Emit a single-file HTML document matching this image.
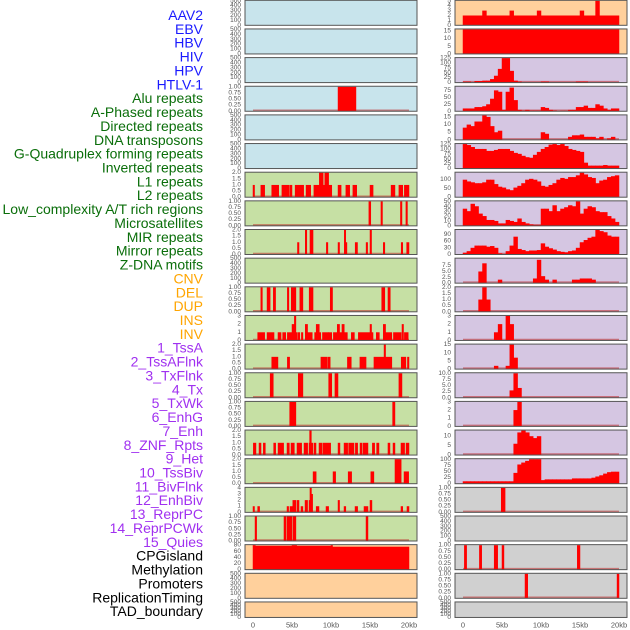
<!DOCTYPE html>
<html><head><meta charset="utf-8">
<style>
html,body{margin:0;padding:0;background:#fff;}
svg{display:block;font-family:"Liberation Sans",sans-serif;}
</style></head>
<body>
<svg id="chart" width="630" height="630" viewBox="0 0 630 630" xmlns="http://www.w3.org/2000/svg"></svg>
<script>
// ---- data ----
const labels = ["AAV2","EBV","HBV","HIV","HPV","HTLV-1","Alu repeats","A-Phased repeats","Directed repeats","DNA transposons","G-Quadruplex forming repeats","Inverted repeats","L1 repeats","L2 repeats","Low_complexity A/T rich regions","Microsatellites","MIR repeats","Mirror repeats","Z-DNA motifs","CNV","DEL","DUP","INS","INV","1_TssA","2_TssAFlnk","3_TxFlnk","4_Tx","5_TxWk","6_EnhG","7_Enh","8_ZNF_Rpts","9_Het","10_TssBiv","11_BivFlnk","12_EnhBiv","13_ReprPC","14_ReprPCWk","15_Quies","CPGisland","Methylation","Promoters","ReplicationTiming","TAD_boundary"];
const labelGroups = ["v","v","v","v","v","v","r","r","r","r","r","r","r","r","r","r","r","r","r","s","s","s","s","s","c","c","c","c","c","c","c","c","c","c","c","c","c","c","c","k","k","k","k","k"];
const xTicks = [0,5,10,15,20];
const xTickLabels = ["0","5kb","10kb","15kb","20kb"];
const emptyTicks = [0,100,200,300,400,500];

// left panels: segments [startKb, endKb, value]
const leftBg = ["b","b","b","b","b","b","g","g","g","g","g","g","g","g","g","g","g","g","g","o","o","o"];
const leftYmax = [500,500,500,1,500,500,2,1,2,500,1,3,2,1,1,2,2,4,1,80,500,500];
const leftTicks = [emptyTicks,emptyTicks,emptyTicks,[0,0.25,0.5,0.75,1],emptyTicks,emptyTicks,[0,0.5,1,1.5,2],[0,0.25,0.5,0.75,1],[0,0.5,1,1.5,2],emptyTicks,[0,0.25,0.5,0.75,1],[0,1,2,3],[0,0.5,1,1.5,2],[0,0.25,0.5,0.75,1],[0,0.25,0.5,0.75,1],[0,0.5,1,1.5,2],[0,0.5,1,1.5,2],[0,1,2,3,4],[0,0.25,0.5,0.75,1],[0,20,40,60,80],emptyTicks,emptyTicks];
const leftSegs = [
 null,null,null,
 [[10.9,13.2,1]],
 null,null,
 [[0,0.2,1],[1.0,1.5,1],[2.4,3.3,1],[3.7,4.6,1],[4.7,5.0,1],[5.4,6.5,1],[6.8,7.4,1],[7.8,8.5,1],[8.5,9.0,2],[9.0,9.2,1],[9.2,9.7,2],[9.7,10.1,1],[10.9,11.3,1],[11.9,12.4,1],[12.8,13.3,1],[15.0,15.4,1],[17.7,18.2,1],[18.7,19.2,1],[19.4,20,1]],
 [[14.85,15.1,1],[16.4,16.6,1],[18.9,19.1,1],[19.6,19.8,1]],
 [[5.7,5.9,1],[6.7,6.9,2],[7.3,7.7,2],[9.4,9.6,1],[10.9,11.1,1],[11.7,11.85,2],[11.85,12.0,1],[13.1,13.4,1],[14.5,14.7,1],[15.0,15.2,2],[16.7,16.9,1],[19.0,19.2,1],[19.7,20,1]],
 null,
 [[1.0,1.2,1],[1.8,2.2,1],[2.6,2.9,1],[4.4,4.6,1],[4.9,5.5,1],[6.0,6.4,1],[7.2,7.7,1],[9.9,10.2,1],[16.5,16.9,1],[17.3,17.6,1]],
 [[0.6,1.5,1],[1.8,2.7,1],[3.2,3.6,1],[3.8,4.2,1],[4.4,5.0,1],[5.0,5.3,2],[5.3,5.5,3],[5.5,5.7,1],[5.8,6.0,1],[6.2,6.4,1],[6.7,7.0,2],[7.0,7.6,1],[8.1,8.5,2],[7.9,8.1,1],[8.5,8.6,1],[8.9,9.7,1],[9.7,10.1,1],[10.3,10.8,1],[10.8,11.1,2],[11.1,11.4,1],[11.4,11.7,2],[11.7,12.1,1],[12.6,13.0,1],[13.5,15.0,1],[15.0,15.2,2],[15.2,15.3,1],[15.8,16.2,1],[16.7,17.0,2],[17.0,17.8,1],[18.0,19.0,1],[19.1,19.3,2],[19.4,19.9,1]],
 [[2.4,3.2,1],[4.4,4.7,1],[8.7,9.5,1],[9.6,9.9,1],[12.1,12.6,1],[13.7,14.5,1],[15.5,16.8,1],[16.8,17.0,2],[17.0,17.8,1],[19.0,19.6,1],[19.8,20,1]],
 [[2.2,2.6,1],[5.8,6.4,1],[9.7,10.1,1],[10.5,10.9,1],[18.7,19.1,1]],
 [[4.7,5.5,1],[17.9,18.2,1]],
 [[0.04,0.38,1],[0.77,1.03,1],[1.32,1.58,1],[2.65,2.91,1],[3.21,3.93,1],[4.36,4.66,1],[4.87,5.3,1],[5.64,6.24,1],[6.54,7.01,1],[7.18,7.26,1],[7.26,7.48,2],[7.48,7.56,1],[7.82,8.08,1],[8.46,8.85,1],[8.97,9.96,1],[10.9,11.15,1],[11.67,12.14,1],[12.26,12.95,1],[13.12,13.42,1],[13.72,13.97,1],[14.1,14.74,1],[15.3,15.6,1],[15.85,16.15,1],[17.3,17.56,1],[17.95,18.2,1],[18.97,19.44,1],[19.62,20,1]],
 [[7.7,8.1,1],[10.26,10.6,1],[12.2,12.65,1],[15.1,15.5,1],[18.2,19.0,2],[19.36,19.96,1]],
 [[0,0.1,1],[0.6,0.85,1],[4.36,4.57,1],[4.74,5.1,1],[5.1,5.5,2],[5.64,5.9,2],[6.15,6.4,1],[6.67,7.0,2],[7.18,7.3,2],[7.3,7.45,4],[7.45,7.65,3],[8.1,8.46,1],[9.36,9.7,1],[10.9,11.1,2],[11.67,11.9,1],[13.08,13.42,1],[14.23,14.74,1],[15.0,15.25,2],[18.97,19.2,1],[19.74,20,1]],
 [[0.26,0.47,1],[3.97,4.23,1],[4.36,5.0,1],[5.13,5.5,1],[14.49,14.74,1]],
 [[0,0.3,80],[0.3,5.0,78],[5.0,5.6,80],[5.6,10.0,78],[10.0,10.2,80],[10.2,20,75]],
 null,null
];

// right panels: 40 bins of 0.5kb, or segments
const rightBg = ["o","o","p","p","p","p","p","p","p","p","p","p","p","p","p","p","p","y","y","y","y","y"];
const rightYmax = [5,16,125,88,16,125,140,50,110,10.5,2,3,15,10,3,13,102,1,500,1,1,500];
const rightTicks = [[0,1,2,3,4,5],[0,5,10,15],[0,25,50,75,100,125],[0,25,50,75],[0,5,10,15],[0,25,50,75,100,125],[0,50,100],[0,10,20,30,40,50],[0,30,60,90],[0,2.5,5,7.5],[0,0.5,1,1.5,2],[0,1,2,3],[0,5,10,15],[0,2.5,5,7.5,10],[0,1,2,3],[0,5,10],[0,25,50,75,100],[0,0.25,0.5,0.75,1],emptyTicks,[0,0.25,0.5,0.75,1],[0,0.25,0.5,0.75,1],emptyTicks];
const rightTickFmt = [0,0,0,0,0,0,0,0,0,1,1,0,0,1,0,0,0,2,0,2,2,0];
const leftTickFmt = [0,0,0,2,0,0,1,2,1,0,2,0,1,2,2,1,1,0,2,0,0,0];
const rightBins = [
 [2,2,2,2,2,3,2,2,2,2,2,2,3,2,2,2,2,2,2,3,2,2,2,2,2,2,2,2,2,2,3,2,2,2,5,2,2,2,2,2],
 [16,16,16,16,16,16,16,16,16,16,16,16,16,16,16,16,16,16,16,16,16,16,16,16,16,16,16,16,16,16,16,16,16,16,16,16,16,16,16,16],
 [5,5,0,8,8,10,10,18,35,70,125,125,60,10,5,0,0,0,0,0,5,5,0,0,0,0,0,0,0,5,5,5,0,0,0,0,0,0,0,0],
 [10,10,10,15,15,18,25,45,75,70,5,70,85,40,5,3,5,3,3,3,15,12,5,3,1,2,2,5,5,15,15,20,12,12,25,20,10,5,10,10],
 [8,10,9,12,12,16,15,9,5,6,0,0,0,0,0,0,0,0,0,0,5,4,0,0,0,0,0,2,3,3,3.5,2,2,2,1,2,0,1,2,0],
 [125,120,110,100,100,100,90,90,95,100,100,100,90,80,75,65,58,55,70,85,100,110,122,125,120,125,115,100,95,90,85,30,15,15,15,15,18,15,15,15],
 [100,90,85,80,80,85,100,100,75,60,55,45,40,55,65,80,100,105,100,90,65,60,70,80,100,110,105,115,115,125,140,130,115,110,80,95,100,115,120,125],
 [35,30,45,40,25,20,12,12,10,5,5,12,10,8,15,8,5,3,2,2,35,35,30,42,30,35,38,42,40,50,25,35,40,38,30,28,28,20,15,8],
 [8,15,30,40,40,40,35,38,30,5,2,15,40,80,25,20,15,18,18,20,50,35,28,22,15,12,10,15,18,30,55,65,75,80,110,105,100,85,80,80],
 [0,0,0,0,5,8.5,0,0,0,1.5,0,0,0,0,0,0,0,0,2,10,3,1.5,0,1.5,0,0,0,0,1.5,1.5,2,2,2,1.5,0,0,0,0,0,0],
 [0,0,0,0,1,2,1,0,0,0,0,0,0,0,0,0,0,0,0,0,0,0,0,0,0,0,0,0,0,0,0,0,0,0,0,0,0,0,0,0],
 [0,0,0,0,0,0,0,0,1,2,0,3,2,0,0,0,0,0,0,0,0,0,0,0,0,0,0,0,0,0,0,0,0,0,0,0,0,0,0,0],
 [0,0,0,0,0,0,0,0,2,0,0,2,15,7,0,0,0,0,0,0,0,0,0,0,0,0,0,0,0,0,0,0,0,0,0,0,0,0,0,0],
 [0,0,0,0,0,0,0,0,0,0,0,0,3,10,4,0,0,0,0,0,0,0,0,0,0,0,0,0,0,0,0,0,0,0,0,0,0,0,0,0],
 [0,0,0,0,0,0,0,0,0,0,0,0,0,2,3,0,0,0,0,0,0,0,0,0,0,0,0,0,0,0,0,0,0,0,0,0,0,0,0,0],
 [0,0,0,0,0,0,0,0,0,0,0,0,0,6,12,13,12,10,9,10,0,0,0,0,0,0,0,0,0,0,0,0,0,0,0,0,0,0,0,0],
 [10,10,10,10,10,10,10,10,10,10,10,10,10,45,80,88,95,102,102,102,15,18,18,18,18,18,18,18,22,22,22,22,22,25,30,35,42,48,50,50],
 null,null,null,null,null
];
const rightSegs = {17:[[4.9,5.4,1]],19:[[0.17,0.47,1],[2.1,2.4,1],[4.0,4.45,1],[5.0,5.25,1],[14.65,15.0,1]],20:[[7.95,8.3,1],[19.75,20,1]]};

// ---- drawing ----
const svg = document.getElementById('chart');
const NS = 'http://www.w3.org/2000/svg';
function mk(tag, attrs, parent){const e=document.createElementNS(NS,tag);for(const k in attrs)e.setAttribute(k,attrs[k]);(parent||svg).appendChild(e);return e;}
const bgColors = {b:'#c8e4ec',g:'#c6e0a4',o:'#ffd09c',p:'#d5c6e2',y:'#d0d0d0'};
const labelColors = {v:'#1a1aff',r:'#0a6e0a',s:'#ffa500',c:'#a030f0',k:'#000000'};
const ROW = 28.65, PH = 25;
function rowTop(i){return 0.3 + ROW*i;}
function rowH(i){return i===21 ? 15.5 : PH;}
function xScale(kb, side){return (side==='L'?253:463) + kb*7.8;}
function fmt(v,d){return v.toFixed(d);}

// labels
labels.forEach((t,i)=>{
  const e = mk('text',{x:203,y:15+14.54*i*(41/43),'text-anchor':'end','dominant-baseline':'central','font-size':'14',fill:labelColors[labelGroups[i]]});
  
  
  e.textContent=t;
});

function drawPanel(i, side){
  const px = side==='L'?245:455;
  const top = rowTop(i), h = rowH(i), bot = top+h;
  const bg = side==='L'?leftBg[i]:rightBg[i];
  const ymax = side==='L'?leftYmax[i]:rightYmax[i];
  const ticks = side==='L'?leftTicks[i]:rightTicks[i];
  const dec = side==='L'?leftTickFmt[i]:rightTickFmt[i];
  const g = mk('g',{});
  
  
  mk('rect',{x:px,y:top,width:172,height:h,fill:bgColors[bg]},g);
  function yS(v){return bot - (v/ymax)*(h-0.5);}
  let marks = [];
  const segs = side==='L'?leftSegs[i]:rightSegs[i];
  const bins = side==='R'?rightBins[i]:null;
  if(bins){bins.forEach((v,k)=>{if(v>0)marks.push([k*0.5,(k+1)*0.5,v]);});}
  if(segs){marks = marks.concat(segs);}
  if(marks.length){
    mk('line',{x1:xScale(0,side),x2:xScale(20,side),y1:bot-1,y2:bot-1,stroke:'rgba(190,40,40,0.55)','stroke-width':1.5},g);
    marks.forEach(m=>{
      const x1=xScale(m[0],side), x2=xScale(m[1],side), y=yS(Math.min(m[2],ymax));
      const r = mk('rect',{x:x1-0.25,y:y,width:Math.max(x2-x1,1.5)+0.5,height:bot-y,fill:'#ff0000'},g);
      
      
    });
  }
  mk('rect',{x:px,y:top,width:172,height:h,fill:'none',stroke:'#555','stroke-width':1},g);
  ticks.forEach(v=>{
    const t = mk('text',{x:px-4,y:yS(v),'text-anchor':'end','dominant-baseline':'central','font-size':'6.5',fill:'#555'},g);
    
    
    t.textContent = fmt(v,dec);
  });
}
for(let i=0;i<22;i++){drawPanel(i,'L');drawPanel(i,'R');}

['L','R'].forEach(side=>{
  xTicks.forEach((v,k)=>{
    const t = mk('text',{x:xScale(v,side),y:625,'text-anchor':'middle','dominant-baseline':'central','font-size':'7.5',fill:'#555'});
    
    
    t.textContent = xTickLabels[k];
  });
});
</script>
</body></html>
